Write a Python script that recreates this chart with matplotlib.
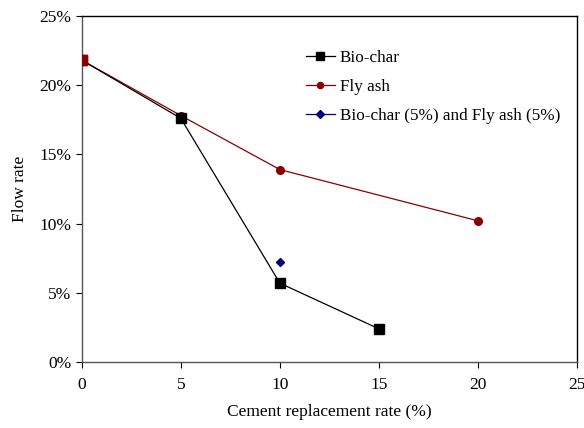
import matplotlib
matplotlib.use("Agg")
import matplotlib.pyplot as plt
from matplotlib.ticker import FuncFormatter

plt.rcParams['font.family'] = ['Liberation Serif', 'DejaVu Serif']

biochar_x = [0, 5, 10, 15]
biochar_y = [21.8, 17.6, 5.7, 2.4]
flyash_x = [0, 5, 10, 20]
flyash_y = [21.8, 17.8, 13.9, 10.2]
blend_x = [10]
blend_y = [7.2]

x_ticks = [0, 5, 10, 15, 20, 25]
y_ticks = [0, 5, 10, 15, 20, 25]

fig = plt.figure(figsize=(5.84, 4.28), dpi=100)
ax = fig.add_axes([0.140, 0.154, 0.848, 0.809])

ax.plot(flyash_x, flyash_y, color='#8B0000', lw=0.9, marker='o', ms=5.5,
        label='Fly ash', zorder=2)
ax.plot(biochar_x, biochar_y, color='black', lw=0.9, marker='s', ms=6.5,
        label='Bio-char', zorder=3)
# shared starting point shown in the fly-ash colour
ax.plot(biochar_x[:1], biochar_y[:1], ls='none', marker='s', ms=6.5,
        color='#8B0000', zorder=4)
ax.plot(blend_x, blend_y, color='#000080', lw=0.9, marker='D', ms=4.5,
        label='Bio-char (5%) and Fly ash (5%)', zorder=3)

ax.set_xlim(0, 25)
ax.set_ylim(0, 25)
ax.set_xticks(x_ticks)
ax.set_yticks(y_ticks)
ax.yaxis.set_major_formatter(FuncFormatter(lambda v, p: f"{v:.0f}%"))
ax.tick_params(labelsize=12.5, length=4, width=0.8, direction='out')
ax.tick_params(axis='x', pad=7)
for s in ax.spines.values():
    s.set_linewidth(1.0)
ax.spines['left'].set_color('#555555')
ax.spines['bottom'].set_color('#555555')

ax.set_xlabel('Cement replacement rate (%)', fontsize=12.5, labelpad=8)
ax.set_ylabel('Flow rate', fontsize=12.5, labelpad=8)

h, l = ax.get_legend_handles_labels()
order = [1, 0, 2]
ax.legend([h[i] for i in order], [l[i] for i in order], loc='upper left',
          bbox_to_anchor=(0.421, 0.946), frameon=False, fontsize=12.3,
          handlelength=1.7, handletextpad=0.3, labelspacing=0.75,
          markerscale=0.8)

fig.savefig('out.png', dpi=100)
